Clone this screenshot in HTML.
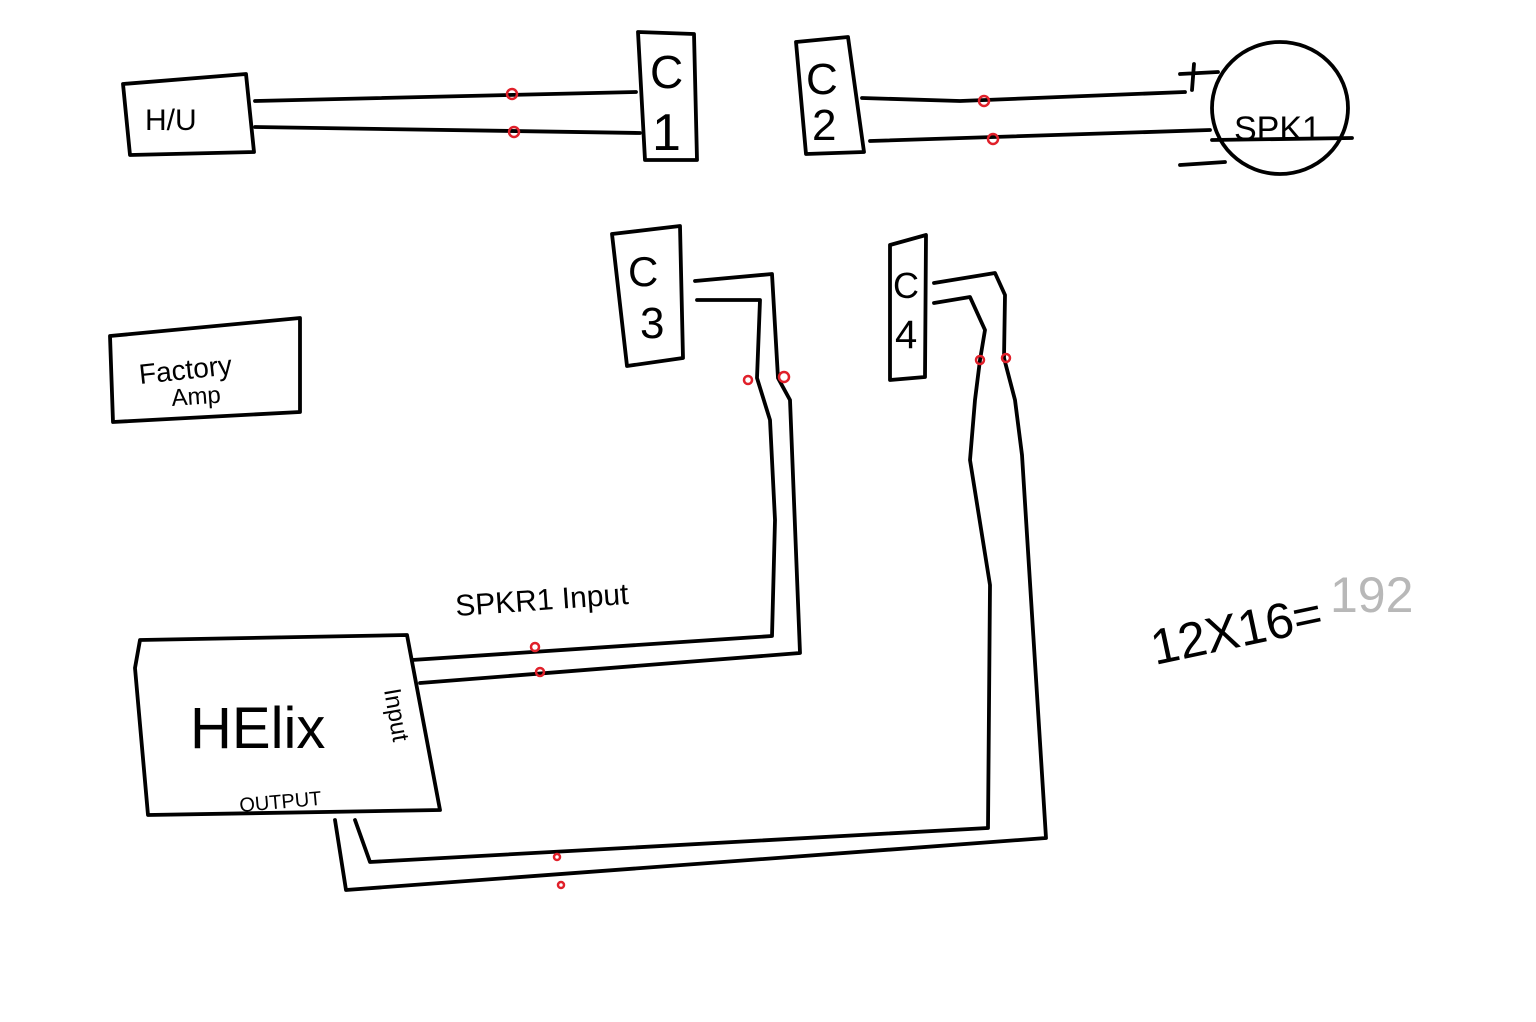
<!DOCTYPE html>
<html><head><style>
html,body{margin:0;padding:0;background:#fff;}
svg{display:block}
text{font-family:"Liberation Sans",sans-serif;fill:#000}
</style></head><body>
<svg width="1536" height="1022" viewBox="0 0 1536 1022" xmlns="http://www.w3.org/2000/svg">
<g fill="none" stroke="#000" stroke-width="3.8" stroke-linecap="round" stroke-linejoin="round">
<path d="M123,84 L246,74 L254,152 L130,155 Z"/>
<path d="M255,101 L636,92"/>
<path d="M255,127 L640,133"/>
<path d="M638,32 L694,34 L697,160 L645,160 Z"/>
<path d="M796,42 L848,37 L864,152 L806,154 Z"/>
<path d="M862,98 L960,101 L1185,92"/>
<path d="M870,141 L1210,130"/>
<ellipse cx="1280" cy="108" rx="68" ry="66"/>
<path d="M1180,74 L1218,72 M1194,64 L1192,90"/>
<path d="M1180,165 L1225,162"/>
<path d="M1212,140 L1352,138"/>
<path d="M612,234 L680,226 L683,358 L627,366 Z"/>
<path d="M695,281 L772,274 L778,378 L790,400 L800,653 L420,683"/>
<path d="M697,300 L760,300 L757,378 L770,420 L775,520 L772,636 L412,660"/>
<path d="M890,245 L926,235 L925,377 L890,380 Z"/>
<path d="M934,283 L995,273 L1005,295 L1004,358 L1015,400 L1022,455 L1046,838 L346,890 L335,820"/>
<path d="M934,303 L970,297 L985,330 L980,360 L975,400 L970,460 L990,585 L988,828 L370,862 L355,820"/>
<path d="M110,336 L300,318 L300,412 L113,422 Z"/>
<path d="M140,640 L407,635 L440,810 L148,815 L135,668 Z"/>
</g>
<g fill="none" stroke="#e0202a" stroke-width="2.5">
<circle cx="512" cy="94" r="5"/><circle cx="514" cy="132" r="5"/>
<circle cx="984" cy="101" r="5"/><circle cx="993" cy="139" r="5"/>
<circle cx="748" cy="380" r="4"/><circle cx="784" cy="377" r="5"/>
<circle cx="980" cy="360" r="4"/><circle cx="1006" cy="358" r="4"/>
<circle cx="535" cy="647" r="4"/><circle cx="540" cy="672" r="4"/>
<circle cx="557" cy="857" r="3"/><circle cx="561" cy="885" r="3"/>
</g>
<text x="145" y="130" font-size="30">H/U</text>
<text x="650" y="88" font-size="46">C</text>
<text x="652" y="150" font-size="52">1</text>
<text x="806" y="94" font-size="44">C</text>
<text x="812" y="140" font-size="44">2</text>
<text x="1234" y="140" font-size="34">SPK1</text>
<text x="628" y="286" font-size="42">C</text>
<text x="640" y="338" font-size="44">3</text>
<text x="893" y="298" font-size="36">C</text>
<text x="895" y="348" font-size="40">4</text>
<text x="140" y="384" font-size="28" transform="rotate(-6 140 384)">Factory</text>
<text x="172" y="406" font-size="24" transform="rotate(-4 172 406)">Amp</text>
<text x="456" y="616" font-size="30" transform="rotate(-4 456 616)">SPKR1 Input</text>
<text x="190" y="748" font-size="58">HElix</text>
<text x="240" y="812" font-size="20" transform="rotate(-5 240 812)">OUTPUT</text>
<text x="0" y="0" font-size="24" transform="translate(384,690) rotate(80)">Input</text>
<text x="1155" y="665" font-size="50" transform="rotate(-12 1155 665)">12X16=</text>
<text x="1330" y="612" font-size="50" style="fill:#b8b8b8">192</text>
</svg>
</body></html>
